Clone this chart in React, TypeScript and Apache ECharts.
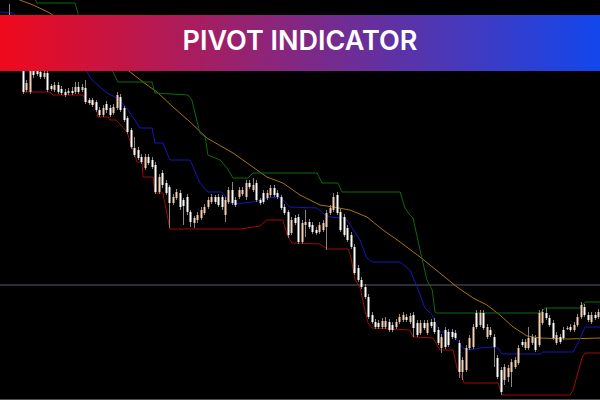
import React, { useEffect, useRef } from "react";
import * as echarts from "echarts";

// Candles (price units), one per bar
const opens = [
  365, 382, 384, 355, 370, 355, 345, 310, 308, 334,
  330, 328, 323, 327, 314, 310, 315, 311, 308, 307,
  309, 308, 313, 310, 312, 300, 300, 298, 290, 285,
  296, 292, 287, 292, 303, 292, 282, 270, 252, 250,
  243, 232, 243, 240, 235, 208, 227, 217, 213, 197,
  202, 207, 200, 203, 188, 177, 180, 182, 187, 193,
  198, 203, 203, 203, 185, 198, 210, 200, 203, 206,
  203, 217, 210, 217, 200, 207, 202, 205, 212, 207,
  203, 193, 188, 167, 182, 183, 158, 175, 178, 175,
  170, 168, 170, 173, 187, 190, 205, 188, 183, 172,
  165, 153, 132, 120, 113, 103, 85, 78, 77, 73,
  73, 78, 75, 73, 78, 80, 83, 78, 85, 77,
  67, 77, 67, 78, 78, 70, 52, 70, 68, 68,
  67, 57, 28, 30, 52, 53, 87, 75, 87, 63,
  70, 63, 42, 30, 20, 23, 28, 33, 37, 58,
  52, 52, 57, 62, 55, 77, 87, 82, 77, 57,
  63, 70, 71, 73, 70, 75, 83, 93, 85, 78,
  85, 83,
];
const closes = [
  380, 370, 360, 370, 345, 335, 308, 317, 332, 325,
  326, 323, 327, 310, 311, 315, 308, 307, 305, 309,
  307, 313, 308, 313, 298, 297, 295, 290, 285, 292,
  290, 285, 293, 305, 290, 280, 268, 253, 245, 242,
  238, 243, 237, 233, 208, 223, 215, 207, 197, 203,
  208, 193, 194, 188, 178, 182, 185, 190, 193, 200,
  203, 198, 195, 193, 200, 210, 197, 195, 210, 210,
  217, 213, 215, 200, 197, 198, 207, 212, 205, 203,
  192, 187, 165, 180, 177, 158, 177, 178, 173, 168,
  167, 175, 177, 187, 192, 203, 187, 170, 165, 160,
  153, 127, 120, 113, 103, 83, 78, 73, 73, 79,
  79, 70, 70, 78, 83, 85, 80, 84, 72, 65,
  77, 72, 77, 74, 68, 57, 63, 53, 55, 63,
  62, 28, 40, 52, 62, 73, 73, 87, 72, 73,
  65, 53, 23, 8, 33, 32, 38, 40, 52, 55,
  58, 62, 63, 50, 87, 88, 82, 75, 62, 65,
  58, 62, 72, 70, 75, 83, 95, 85, 80, 85,
  82, 88,
];
const lows = [
  362, 367, 355, 352, 342, 332, 306, 308, 306, 322,
  324, 321, 321, 308, 309, 308, 306, 305, 303, 305,
  305, 306, 306, 308, 296, 295, 293, 288, 283, 283,
  287, 283, 285, 290, 288, 278, 266, 251, 243, 240,
  236, 230, 235, 231, 206, 206, 212, 205, 172, 195,
  200, 190, 175, 185, 173, 172, 177, 180, 185, 191,
  196, 196, 193, 190, 178, 196, 195, 193, 201, 204,
  200, 211, 208, 198, 195, 196, 200, 203, 203, 201,
  190, 185, 162, 165, 175, 156, 156, 163, 171, 166,
  165, 166, 168, 150, 185, 188, 185, 168, 163, 158,
  151, 125, 118, 111, 101, 81, 76, 71, 71, 71,
  71, 68, 68, 71, 76, 78, 78, 76, 63, 63,
  65, 70, 65, 72, 66, 55, 47, 51, 53, 61,
  60, 22, 20, 28, 50, 51, 71, 73, 70, 61,
  63, 33, 21, 5, 15, 18, 13, 31, 35, 53,
  50, 50, 55, 48, 53, 75, 80, 73, 60, 55,
  56, 60, 70, 68, 68, 73, 81, 83, 78, 76,
  80, 81,
];
const highs = [
  383, 385, 396, 374, 373, 358, 348, 320, 335, 337,
  333, 331, 330, 330, 316, 318, 318, 314, 311, 312,
  313, 318, 318, 316, 320, 302, 302, 300, 293, 295,
  299, 295, 296, 308, 306, 294, 284, 272, 263, 253,
  246, 246, 246, 243, 238, 226, 230, 220, 215, 206,
  211, 210, 202, 206, 190, 184, 188, 193, 196, 203,
  206, 205, 206, 205, 203, 213, 218, 203, 213, 213,
  220, 220, 222, 220, 202, 210, 210, 215, 215, 210,
  205, 196, 190, 183, 185, 186, 180, 190, 181, 178,
  173, 178, 180, 190, 195, 207, 208, 191, 186, 175,
  168, 156, 135, 123, 116, 106, 88, 81, 80, 82,
  83, 81, 78, 81, 86, 88, 86, 87, 88, 80,
  80, 80, 80, 81, 82, 73, 66, 73, 71, 71,
  70, 60, 43, 55, 65, 76, 90, 90, 90, 76,
  73, 66, 45, 33, 36, 35, 41, 43, 55, 61,
  61, 73, 66, 65, 90, 91, 92, 85, 80, 68,
  66, 73, 74, 76, 78, 86, 98, 96, 88, 88,
  88, 91,
];

// Indicator lines: [bar index, price] breakpoints
const upperLevel = [
  [9.0, 405], [10.1, 397], [21.0, 397], [22.4, 380], [31.6, 330], [33.3, 318],
  [43.1, 318], [43.9, 307], [53.4, 305], [54.5, 300], [56.8, 267], [58.3, 263],
  [59.1, 245], [62.6, 240], [64.6, 232], [66.3, 222], [70.6, 222], [72.0, 227],
  [90.4, 227], [91.8, 217], [96.4, 217], [97.5, 208], [114.2, 208], [115.6, 192],
  [117.0, 185], [117.9, 182], [119.9, 150], [121.9, 120], [123.4, 110], [124.2, 88],
  [124.8, 87], [154.3, 87], [155.8, 92], [165.8, 92], [167.2, 98], [171.5, 98],
];
const middleLevel = [
  [-0.5, 388], [3.2, 387], [8.1, 375], [19.6, 355], [24.4, 328], [25.9, 320],
  [28.2, 313], [30.2, 307], [32.5, 303], [33.9, 300], [36.2, 290], [37.6, 283],
  [39.6, 272], [43.1, 272], [43.9, 257], [46.2, 257], [48.2, 240], [54.0, 240],
  [56.8, 217], [59.1, 208], [63.1, 208], [65.4, 198], [66.3, 196], [72.0, 198],
  [76.0, 202], [79.8, 203], [80.6, 200], [82.6, 193], [90.4, 192], [92.7, 185],
  [94.1, 183], [97.8, 182], [99.0, 180], [102.7, 160], [104.7, 142], [106.2, 138],
  [114.2, 138], [117.0, 130], [119.1, 113], [121.3, 92], [123.4, 85], [124.2, 78],
  [125.6, 68], [129.4, 68], [130.5, 60], [132.2, 52], [134.2, 50], [137.1, 52],
  [140.0, 53], [142.3, 52], [143.4, 46], [154.3, 46], [155.2, 48], [163.8, 48],
  [165.2, 57], [167.2, 73], [171.5, 73],
];
const lowerLevel = [
  [5.8, 308], [13.8, 308], [14.7, 305], [23.3, 305], [24.4, 298], [25.3, 297],
  [26.7, 297], [27.6, 283], [30.5, 283], [31.0, 280], [32.8, 280], [35.9, 268],
  [38.8, 238], [40.2, 238], [40.5, 223], [43.4, 223], [43.9, 207], [46.2, 207],
  [48.2, 171], [68.3, 171], [74.0, 174], [76.0, 180], [80.6, 180], [81.8, 165],
  [83.2, 157], [91.2, 156], [93.3, 151], [99.3, 151], [100.1, 143], [101.3, 120],
  [102.7, 113], [104.1, 90], [105.0, 77], [106.2, 72], [117.0, 70], [117.9, 63],
  [123.6, 62], [124.8, 55], [125.6, 50], [129.4, 50], [130.5, 32], [132.0, 23],
  [132.5, 17], [142.3, 17], [143.4, 5], [162.9, 5], [163.8, 10], [166.4, 43],
  [167.2, 47], [171.5, 47],
];
const movingAverage = [
  [3.5, 403], [5.2, 400], [9.0, 395], [13.8, 387], [36.8, 328], [40.5, 318],
  [44.5, 308], [49.1, 293], [54.0, 278], [58.8, 262], [66.3, 247], [76.0, 223],
  [80.6, 217], [85.5, 205], [91.2, 195], [95.0, 193], [99.8, 190], [104.7, 183],
  [109.3, 170], [114.2, 158], [119.9, 143], [125.6, 127], [130.5, 113], [135.1, 102],
  [139.1, 95], [142.8, 85], [146.6, 73], [150.6, 64], [154.3, 62], [162.1, 61],
  [171.5, 62],
];
const horizontalLevel = 115;
const titleText = "PIVOT INDICATOR";

const BULL = "#f7cfae";
const BEAR = "#ffffff";

export default function App() {
  const ref = useRef<HTMLDivElement>(null);
  useEffect(() => {
    if (!ref.current) return;
    const chart = echarts.init(ref.current, null, { renderer: "svg" });
    const n = opens.length;
    const candleData = opens.map((o, i) => [i, o, closes[i], lows[i], highs[i]]);
    const lineSeries = (data: number[][], color: string, z: number) => ({
      type: "line",
      data,
      showSymbol: false,
      symbol: "none",
      silent: true,
      clip: true,
      z,
      lineStyle: { color, width: 1 },
    });
    chart.setOption({
      animation: false,
      backgroundColor: "#000000",
      grid: { left: 0, right: 0, top: 0, bottom: 1 },
      xAxis: {
        type: "value",
        min: -0.5,
        max: n - 0.5,
        axisLine: { show: true, lineStyle: { color: "#4c4f57", width: 1 } },
        axisTick: { show: false },
        axisLabel: { show: false },
        splitLine: { show: false },
      },
      yAxis: {
        type: "value",
        min: 1,
        max: 400,
        show: false,
        splitLine: { show: false },
      },
      series: [
        {
          type: "line",
          data: [[-0.5, horizontalLevel], [n - 0.5, horizontalLevel]],
          showSymbol: false,
          symbol: "none",
          silent: true,
          z: 1,
          lineStyle: { color: "#5c5f68", width: 1 },
        },
        lineSeries(movingAverage, "#a8740f", 2),
        lineSeries(upperLevel, "#0c6a0c", 2),
        lineSeries(middleLevel, "#1717b8", 2),
        lineSeries(lowerLevel, "#a00a0a", 2),
        {
          type: "custom",
          data: candleData,
          encode: { x: 0, y: [1, 2, 3, 4] },
          z: 3,
          clip: true,
          silent: true,
          renderItem: (_params: any, api: any) => {
            const i = api.value(0);
            const o = api.value(1);
            const c = api.value(2);
            const l = api.value(3);
            const h = api.value(4);
            const pO = api.coord([i, o]);
            const pC = api.coord([i, c]);
            const pL = api.coord([i, l]);
            const pH = api.coord([i, h]);
            const cx = Math.round(pO[0]);
            const top = Math.min(pO[1], pC[1]);
            const bot = Math.max(pO[1], pC[1]);
            const bull = c >= o;
            return {
              type: "group",
              children: [
                {
                  type: "line",
                  shape: { x1: cx + 0.5, y1: pH[1], x2: cx + 0.5, y2: pL[1] },
                  style: { stroke: "#8a8580", lineWidth: 1 },
                },
                {
                  type: "rect",
                  shape: { x: cx - 0.5, y: top, width: 2, height: Math.max(1, bot - top) },
                  style: { fill: bull ? BULL : BEAR },
                },
              ],
            };
          },
        },
      ],
      graphic: [
        {
          type: "rect",
          z: 100,
          shape: { x: 0, y: 15, width: 600, height: 56 },
          style: {
            fill: new echarts.graphic.LinearGradient(0, 0, 1, 0, [
              { offset: 0, color: "#f0091c" },
              { offset: 1, color: "#1247ec" },
            ]),
          },
        },
        {
          type: "text",
          z: 101,
          x: 300,
          y: 40,
          style: {
            text: titleText,
            fill: "#ffffff",
            fontFamily: "Inter",
            fontWeight: 600,
            fontSize: 27,
            align: "center",
            verticalAlign: "middle",
          },
        },
      ],
    });
    return () => chart.dispose();
  }, []);
  return (
    <div
      ref={ref}
      style={{ position: "fixed", left: 0, top: 0, width: 600, height: 400 }}
    />
  );
}
